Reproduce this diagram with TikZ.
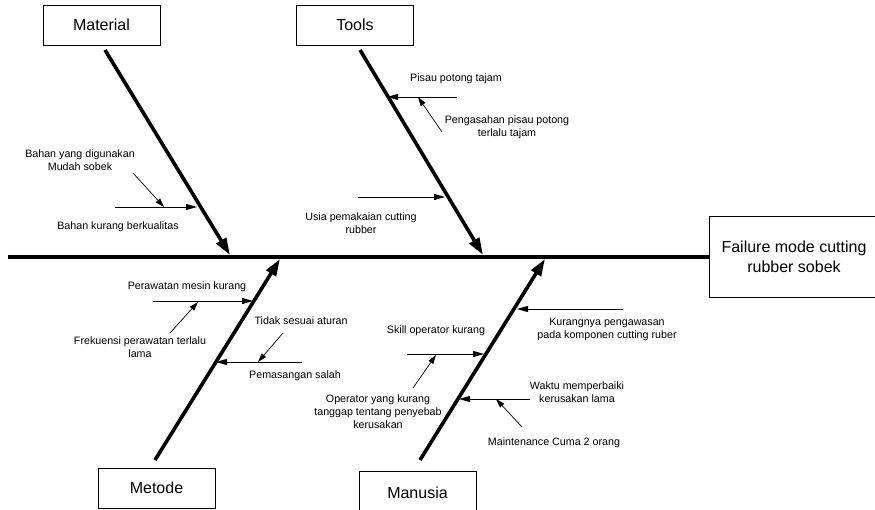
\documentclass[tikz,border=0pt]{standalone}
\usepackage{fontspec}
\setmainfont{Liberation Sans}
\usetikzlibrary{arrows.meta}
\begin{document}
\begin{tikzpicture}[x=1pt,y=-1pt,
 box/.style={draw,line width=0.8pt,minimum width=117pt,minimum height=40pt,font=\fontsize{16}{20}\selectfont,inner sep=0pt,align=center},
 lbl/.style={align=center,font=\fontsize{10.7}{13}\selectfont,inner sep=0pt},
 bone/.style={line width=3.6pt,-{Triangle[length=17pt,width=11pt]}},
 sub/.style={line width=0.8pt,-{Triangle[length=11pt,width=6pt]}},
 subsub/.style={line width=0.7pt,-{Triangle[length=9pt,width=5.5pt]}}]
\useasboundingbox (0,0) rectangle (875,510);
% boxes
\node[box] (mat) at (101.5,25) {Material};
\node[box] (tools) at (355,25) {Tools};
\node[box] (met) at (156.5,488) {Metode};
\node[box,minimum height=44pt] (man) at (417.5,493) {Manusia};
\node[box,minimum width=170pt,minimum height=81pt] (fail) at (794,256.5) {Failure mode cutting\\rubber sobek};
% spine
\coordinate (sL) at (8,257);
\draw[line width=3.6pt] (sL) -- (fail.west |- sL);
% bones
\coordinate (b1s) at (105,50);  \coordinate (b1e) at (230,255);
\coordinate (b2s) at (360,50);  \coordinate (b2e) at (483,255);
\coordinate (b3s) at (155,460); \coordinate (b3e) at (280,259);
\coordinate (b4s) at (420,460); \coordinate (b4e) at (545,259);
\draw[bone] (b1s) -- (b1e);
\draw[bone] (b2s) -- (b2e);
\draw[bone] (b3s) -- (b3e);
\draw[bone] (b4s) -- (b4e);
% Material causes
\node[lbl] (t1) at (80,160) {Bahan yang digunakan\\Mudah sobek};
\node[lbl] (t2) at (118,227) {Bahan kurang berkualitas};
\coordinate (a1s) at (115,207); \coordinate (a1e) at (197,207);
\coordinate (a2s) at (133,173); \coordinate (a2e) at (164,207);
\draw[sub] (a1s) -- (a1e);
\draw[subsub] (a2s) -- (a2e);
% Tools causes
\node[lbl] (t3) at (456,79) {Pisau potong tajam};
\node[lbl] (t4) at (507,127) {Pengasahan pisau potong\\terlalu tajam};
\node[lbl] (t5) at (361,223) {Usia pemakaian cutting\\rubber};
\coordinate (a3s) at (457,97); \coordinate (a3e) at (387,97);
\coordinate (a4s) at (442,132); \coordinate (a4e) at (418,97);
\coordinate (a5s) at (358,197); \coordinate (a5e) at (445,197);
\draw[sub] (a3s) -- (a3e);
\draw[subsub] (a4s) -- (a4e);
\draw[sub] (a5s) -- (a5e);
% Metode causes
\node[lbl] (t6) at (187,287) {Perawatan mesin kurang};
\node[lbl] (t7) at (140,347) {Frekuensi perawatan terlalu\\lama};
\node[lbl] (t8) at (301,321) {Tidak sesuai aturan};
\node[lbl] (t9) at (295,376) {Pemasangan salah};
\coordinate (a6s) at (153,301); \coordinate (a6e) at (253,301);
\coordinate (a7s) at (170,333); \coordinate (a7e) at (198,302);
\coordinate (a8s) at (302,362); \coordinate (a8e) at (216,362);
\coordinate (a9s) at (283,333); \coordinate (a9e) at (258,362);
\draw[sub] (a6s) -- (a6e);
\draw[subsub] (a7s) -- (a7e);
\draw[sub] (a8s) -- (a8e);
\draw[subsub] (a9s) -- (a9e);
% Manusia causes
\node[lbl] (t10) at (607,329) {Kurangnya pengawasan\\pada komponen cutting ruber};
\node[lbl] (t11) at (436,331) {Skill operator kurang};
\node[lbl] (t12) at (378,412) {Operator yang kurang\\tanggap tentang penyebab\\kerusakan};
\node[lbl] (t13) at (577,392.5) {Waktu memperbaiki\\kerusakan lama};
\node[lbl] (t14) at (554,443) {Maintenance Cuma 2 orang};
\coordinate (a10s) at (623,309); \coordinate (a10e) at (517,309);
\coordinate (a11s) at (407,354); \coordinate (a11e) at (484,354);
\coordinate (a12s) at (413,388); \coordinate (a12e) at (436,355);
\coordinate (a13s) at (530,399); \coordinate (a13e) at (459,399);
\coordinate (a14s) at (522,427); \coordinate (a14e) at (496,399);
\draw[sub] (a10s) -- (a10e);
\draw[sub] (a11s) -- (a11e);
\draw[subsub] (a12s) -- (a12e);
\draw[sub] (a13s) -- (a13e);
\draw[subsub] (a14s) -- (a14e);
\end{tikzpicture}
\end{document}
